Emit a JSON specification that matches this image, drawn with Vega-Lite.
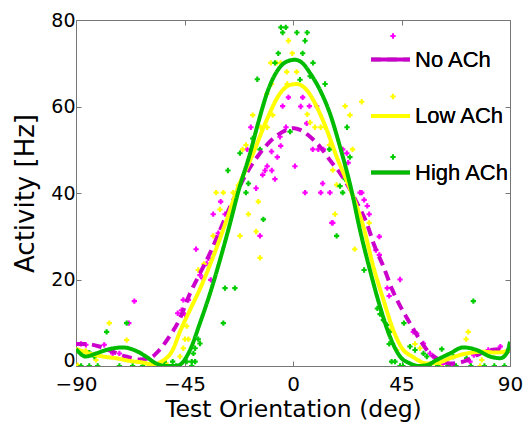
{
  "$schema": "https://vega.github.io/schema/vega-lite/v6.json",
  "width": 434,
  "height": 346,
  "autosize": "none",
  "padding": {"left": 76, "top": 20, "right": 13, "bottom": 61},
  "config": {
    "view": {"stroke": "#777777", "strokeWidth": 1},
    "font": "DejaVu Sans",
    "axis": {
      "grid": false, "domain": false, "tickColor": "#777777", "tickSize": -5, "tickWidth": 1, "labelFlush": false,
      "labelFont": "DejaVu Sans", "labelFontSize": 20, "labelColor": "#000000",
      "titleFont": "DejaVu Sans", "titleFontSize": 23.5, "titleFontWeight": "normal", "titleColor": "#000000"
    },
    "legend": {"padding": 0}
  },
  "datasets": {
    "curves": [
      {"s":"No ACh","x":-90,"y":5.1},{"s":"No ACh","x":-85.9,"y":5.1},{"s":"No ACh","x":-80.3,"y":4.5},{"s":"No ACh","x":-74.8,"y":3.3},{"s":"No ACh","x":-69.3,"y":2.2},{"s":"No ACh","x":-63.7,"y":1.5},{"s":"No ACh","x":-59.6,"y":1.8},{"s":"No ACh","x":-55.4,"y":3.7},{"s":"No ACh","x":-51.3,"y":6.8},{"s":"No ACh","x":-47.2,"y":10.6},{"s":"No ACh","x":-42.7,"y":16.8},{"s":"No ACh","x":-38.6,"y":21.4},{"s":"No ACh","x":-34.4,"y":26.1},{"s":"No ACh","x":-30.3,"y":31.4},{"s":"No ACh","x":-26.1,"y":36.8},{"s":"No ACh","x":-19.2,"y":44.6},{"s":"No ACh","x":-13.7,"y":49.2},{"s":"No ACh","x":-8.2,"y":52.6},{"s":"No ACh","x":-2.6,"y":54.6},{"s":"No ACh","x":0.5,"y":55},{"s":"No ACh","x":3,"y":54.6},{"s":"No ACh","x":7.1,"y":53},{"s":"No ACh","x":11.2,"y":50.7},{"s":"No ACh","x":15.3,"y":47.6},{"s":"No ACh","x":19.5,"y":44.6},{"s":"No ACh","x":23,"y":41.5},{"s":"No ACh","x":27,"y":37.2},{"s":"No ACh","x":30.6,"y":33},{"s":"No ACh","x":33.5,"y":28.2},{"s":"No ACh","x":37.5,"y":23},{"s":"No ACh","x":41.2,"y":17.6},{"s":"No ACh","x":44.8,"y":13.5},{"s":"No ACh","x":48.5,"y":9.9},{"s":"No ACh","x":52.7,"y":6},{"s":"No ACh","x":56.8,"y":2.9},{"s":"No ACh","x":61,"y":1.4},{"s":"No ACh","x":65.1,"y":0.6},{"s":"No ACh","x":70.6,"y":1},{"s":"No ACh","x":76.2,"y":2.5},{"s":"No ACh","x":81.7,"y":3.7},{"s":"No ACh","x":85.9,"y":3.9},{"s":"No ACh","x":88.6,"y":3.3},{"s":"No ACh","x":90,"y":3.7},
      {"s":"Low ACh","x":-90,"y":4},{"s":"Low ACh","x":-84.5,"y":2.9},{"s":"Low ACh","x":-78.9,"y":2.2},{"s":"Low ACh","x":-73.4,"y":1.8},{"s":"Low ACh","x":-67.9,"y":1.2},{"s":"Low ACh","x":-62.3,"y":0.8},{"s":"Low ACh","x":-58.2,"y":0.4},{"s":"Low ACh","x":-54,"y":1.2},{"s":"Low ACh","x":-50,"y":3.6},{"s":"Low ACh","x":-46.9,"y":7.9},{"s":"Low ACh","x":-42.7,"y":13},{"s":"Low ACh","x":-38.6,"y":17.8},{"s":"Low ACh","x":-33.1,"y":25.3},{"s":"Low ACh","x":-27.5,"y":33.8},{"s":"Low ACh","x":-23.5,"y":40.3},{"s":"Low ACh","x":-16.5,"y":49.2},{"s":"Low ACh","x":-10.9,"y":56.9},{"s":"Low ACh","x":-5.4,"y":63},{"s":"Low ACh","x":-1.2,"y":65},{"s":"Low ACh","x":1.5,"y":65.2},{"s":"Low ACh","x":5.7,"y":63.8},{"s":"Low ACh","x":9.8,"y":60},{"s":"Low ACh","x":14,"y":54.6},{"s":"Low ACh","x":18.1,"y":48.4},{"s":"Low ACh","x":24,"y":40.5},{"s":"Low ACh","x":29.2,"y":32.2},{"s":"Low ACh","x":33.3,"y":23},{"s":"Low ACh","x":37.5,"y":15.3},{"s":"Low ACh","x":41.6,"y":8.3},{"s":"Low ACh","x":45,"y":4.3},{"s":"Low ACh","x":50,"y":2},{"s":"Low ACh","x":55.4,"y":0.6},{"s":"Low ACh","x":59.6,"y":0.7},{"s":"Low ACh","x":65.1,"y":1.8},{"s":"Low ACh","x":72,"y":2.9},{"s":"Low ACh","x":78.9,"y":3.3},{"s":"Low ACh","x":84.5,"y":3.1},{"s":"Low ACh","x":90,"y":3.7},
      {"s":"High ACh","x":-90,"y":3.9},{"s":"High ACh","x":-85.9,"y":2.2},{"s":"High ACh","x":-81.7,"y":2.9},{"s":"High ACh","x":-76.2,"y":3.9},{"s":"High ACh","x":-70.6,"y":4.3},{"s":"High ACh","x":-65.1,"y":3.5},{"s":"High ACh","x":-61,"y":2.2},{"s":"High ACh","x":-56.8,"y":0.6},{"s":"High ACh","x":-53,"y":0},{"s":"High ACh","x":-49,"y":0},{"s":"High ACh","x":-46.9,"y":0.3},{"s":"High ACh","x":-42.7,"y":3.7},{"s":"High ACh","x":-38.6,"y":9.9},{"s":"High ACh","x":-34.4,"y":16.8},{"s":"High ACh","x":-30.3,"y":24.5},{"s":"High ACh","x":-26.1,"y":33},{"s":"High ACh","x":-22.7,"y":40.3},{"s":"High ACh","x":-17.8,"y":49.2},{"s":"High ACh","x":-14.4,"y":56.3},{"s":"High ACh","x":-10.2,"y":64},{"s":"High ACh","x":-6.8,"y":68},{"s":"High ACh","x":-2.6,"y":70.4},{"s":"High ACh","x":0.8,"y":70.8},{"s":"High ACh","x":4,"y":70},{"s":"High ACh","x":7.1,"y":67.7},{"s":"High ACh","x":11.2,"y":63.8},{"s":"High ACh","x":15.3,"y":58.4},{"s":"High ACh","x":19.5,"y":50.7},{"s":"High ACh","x":24.3,"y":40.5},{"s":"High ACh","x":27.8,"y":31.4},{"s":"High ACh","x":31.9,"y":22.2},{"s":"High ACh","x":36.1,"y":13.7},{"s":"High ACh","x":40.2,"y":6.8},{"s":"High ACh","x":44.4,"y":2.2},{"s":"High ACh","x":48.5,"y":0.6},{"s":"High ACh","x":52,"y":0},{"s":"High ACh","x":55.5,"y":0.2},{"s":"High ACh","x":59.6,"y":1.4},{"s":"High ACh","x":65.1,"y":2.9},{"s":"High ACh","x":70.6,"y":4.3},{"s":"High ACh","x":76.2,"y":3.7},{"s":"High ACh","x":81.7,"y":2.2},{"s":"High ACh","x":85.9,"y":1.8},{"s":"High ACh","x":88.6,"y":2.9},{"s":"High ACh","x":90,"y":5.6}
    ],
    "pts": [
      {"s":"No ACh","x":-1.9,"y":62.1},{"s":"No ACh","x":4,"y":62.1},{"s":"No ACh","x":-4.3,"y":60.1},{"s":"No ACh","x":3.2,"y":60},{"s":"No ACh","x":6.8,"y":60.1},{"s":"No ACh","x":9.8,"y":60.1},{"s":"No ACh","x":5.7,"y":56.1},{"s":"No ACh","x":8.2,"y":50.1},{"s":"No ACh","x":10.5,"y":50.1},{"s":"No ACh","x":12.6,"y":50.1},{"s":"No ACh","x":20.6,"y":50.1},{"s":"No ACh","x":22.3,"y":49.2},{"s":"No ACh","x":0.8,"y":46.2},{"s":"No ACh","x":22.9,"y":47},{"s":"No ACh","x":20.9,"y":44.2},{"s":"No ACh","x":12.3,"y":42.2},{"s":"No ACh","x":5,"y":40.1},{"s":"No ACh","x":11.5,"y":40.1},{"s":"No ACh","x":15.3,"y":40.1},{"s":"No ACh","x":27.8,"y":40.1},{"s":"No ACh","x":28.5,"y":40.1},{"s":"No ACh","x":29.5,"y":38.4},{"s":"No ACh","x":30.8,"y":37},{"s":"No ACh","x":31.6,"y":35.1},{"s":"No ACh","x":16.5,"y":33.1},{"s":"No ACh","x":35.8,"y":29.9},{"s":"No ACh","x":34.4,"y":26.8},{"s":"No ACh","x":35.8,"y":25.7},{"s":"No ACh","x":44.4,"y":20},{"s":"No ACh","x":39.1,"y":18},{"s":"No ACh","x":39.9,"y":16.2},{"s":"No ACh","x":49.9,"y":7.9},{"s":"No ACh","x":51.3,"y":7.5},{"s":"No ACh","x":54.1,"y":5.2},{"s":"No ACh","x":56.8,"y":2.9},{"s":"No ACh","x":58.2,"y":2.2},{"s":"No ACh","x":73.4,"y":1},
      {"s":"No ACh","x":-17.5,"y":55.2},{"s":"No ACh","x":-2.9,"y":55.2},{"s":"No ACh","x":-5.4,"y":53},{"s":"No ACh","x":-8.9,"y":49.6},{"s":"No ACh","x":-19,"y":50.1},{"s":"No ACh","x":-6.5,"y":48.3},{"s":"No ACh","x":-10.7,"y":46.2},{"s":"No ACh","x":-11.6,"y":45.2},{"s":"No ACh","x":-8.8,"y":45.2},{"s":"No ACh","x":-12.6,"y":44.2},{"s":"No ACh","x":-7.5,"y":43.2},{"s":"No ACh","x":-15.3,"y":41.1},{"s":"No ACh","x":-5.1,"y":50.9},
      {"s":"No ACh","x":-30,"y":38},{"s":"No ACh","x":-33.1,"y":35.1},{"s":"No ACh","x":-28.2,"y":35.1},{"s":"No ACh","x":-31,"y":30.7},{"s":"No ACh","x":-13.7,"y":30.1},{"s":"No ACh","x":-40.2,"y":27},{"s":"No ACh","x":-35.1,"y":24.9},{"s":"No ACh","x":-35.8,"y":23.7},{"s":"No ACh","x":-38.6,"y":21},{"s":"No ACh","x":-37.5,"y":20.3},{"s":"No ACh","x":-34.1,"y":19.9},{"s":"No ACh","x":-45.5,"y":15.3},{"s":"No ACh","x":-43.4,"y":15.3},{"s":"No ACh","x":-46.2,"y":12.9},{"s":"No ACh","x":-44.8,"y":11.8},{"s":"No ACh","x":-47.8,"y":12.2},{"s":"No ACh","x":16.1,"y":33.1},
      {"s":"No ACh","x":-65.8,"y":15},{"s":"No ACh","x":-68.1,"y":9.9},{"s":"No ACh","x":-87.9,"y":5.1},{"s":"No ACh","x":-85.9,"y":4.9},{"s":"No ACh","x":-78.3,"y":4.9},{"s":"No ACh","x":-74.8,"y":2.9},{"s":"No ACh","x":-72,"y":2.9},{"s":"No ACh","x":75,"y":2.5},{"s":"No ACh","x":81,"y":3.7},{"s":"No ACh","x":86,"y":4.5},{"s":"No ACh","x":89,"y":3.5},{"s":"No ACh","x":62,"y":0.5},{"s":"No ACh","x":66,"y":0},
      {"s":"Low ACh","x":-1.9,"y":75.2},{"s":"Low ACh","x":-0.3,"y":72.3},{"s":"Low ACh","x":-9.2,"y":70.1},{"s":"Low ACh","x":-6.8,"y":70.1},{"s":"Low ACh","x":-5.1,"y":70.1},{"s":"Low ACh","x":1.5,"y":68},{"s":"Low ACh","x":-2.6,"y":68},{"s":"Low ACh","x":-8.9,"y":65.2},{"s":"Low ACh","x":-2.4,"y":65.2},{"s":"Low ACh","x":-10.9,"y":62.9},{"s":"Low ACh","x":28.5,"y":61.1},{"s":"Low ACh","x":21.6,"y":60.1},{"s":"Low ACh","x":23.6,"y":58},{"s":"Low ACh","x":-8.4,"y":58},{"s":"Low ACh","x":5.9,"y":58.2},{"s":"Low ACh","x":-16.7,"y":58},{"s":"Low ACh","x":7.1,"y":56.3},{"s":"Low ACh","x":9.1,"y":55.2},{"s":"Low ACh","x":11.5,"y":55.2},{"s":"Low ACh","x":13.3,"y":55.2},{"s":"Low ACh","x":-10.7,"y":55.2},{"s":"Low ACh","x":-13.4,"y":55.2},{"s":"Low ACh","x":15.1,"y":51.1},{"s":"Low ACh","x":24.7,"y":50.1},{"s":"Low ACh","x":-19.5,"y":51.1},{"s":"Low ACh","x":-20.9,"y":50.1},{"s":"Low ACh","x":16.5,"y":45.3},{"s":"Low ACh","x":18.1,"y":41.9},{"s":"Low ACh","x":-22.7,"y":41.8},{"s":"Low ACh","x":-31.9,"y":40.1},{"s":"Low ACh","x":-28.9,"y":40.1},{"s":"Low ACh","x":-24.8,"y":40.1},{"s":"Low ACh","x":-14.4,"y":38},{"s":"Low ACh","x":-18.5,"y":35.1},{"s":"Low ACh","x":-30.3,"y":36.2},{"s":"Low ACh","x":-26.4,"y":36.2},{"s":"Low ACh","x":-33.1,"y":30.1},{"s":"Low ACh","x":-22,"y":30.1},{"s":"Low ACh","x":-15.3,"y":31.1},{"s":"Low ACh","x":-13.7,"y":25},{"s":"Low ACh","x":-39.3,"y":22.2},{"s":"Low ACh","x":-36.9,"y":23.6},{"s":"Low ACh","x":17.4,"y":35.1},{"s":"Low ACh","x":31.6,"y":33.1},{"s":"Low ACh","x":25.6,"y":27},{"s":"Low ACh","x":40.2,"y":8.3},{"s":"Low ACh","x":43,"y":3.7},{"s":"Low ACh","x":50.6,"y":5.1},{"s":"Low ACh","x":52.7,"y":4.1},{"s":"Low ACh","x":72.7,"y":7.9},{"s":"Low ACh","x":71.8,"y":6.2},{"s":"Low ACh","x":78.3,"y":1.4},{"s":"Low ACh","x":50,"y":0},{"s":"Low ACh","x":61,"y":0},{"s":"Low ACh","x":77.6,"y":0},
      {"s":"Low ACh","x":-44.1,"y":9.2},{"s":"Low ACh","x":-44.8,"y":6.2},{"s":"Low ACh","x":-43.4,"y":6.2},{"s":"Low ACh","x":-45.5,"y":4.1},{"s":"Low ACh","x":-46.9,"y":2.2},
      {"s":"Low ACh","x":-76.2,"y":9.9},{"s":"Low ACh","x":-69,"y":6},{"s":"Low ACh","x":-89.3,"y":0.2},{"s":"Low ACh","x":-81.7,"y":1.4},{"s":"Low ACh","x":-59.6,"y":0.2},{"s":"Low ACh","x":-52.7,"y":0.6},{"s":"Low ACh","x":-86,"y":3.5},
      {"s":"High ACh","x":-5,"y":78.3},{"s":"High ACh","x":-3,"y":78.3},{"s":"High ACh","x":-4.3,"y":77.1},{"s":"High ACh","x":1.6,"y":77.1},{"s":"High ACh","x":5.9,"y":77.1},{"s":"High ACh","x":5,"y":75.2},{"s":"High ACh","x":-6.1,"y":72.3},{"s":"High ACh","x":4,"y":72.3},{"s":"High ACh","x":8.3,"y":70.1},{"s":"High ACh","x":-7.5,"y":70.1},{"s":"High ACh","x":2.9,"y":66.2},{"s":"High ACh","x":7.1,"y":67},{"s":"High ACh","x":13.3,"y":65.2},{"s":"High ACh","x":-14.8,"y":66.3},{"s":"High ACh","x":22.4,"y":55.2},{"s":"High ACh","x":-1.2,"y":54.2},{"s":"High ACh","x":15.1,"y":50.1},{"s":"High ACh","x":23.6,"y":48.3},{"s":"High ACh","x":21.6,"y":43.2},{"s":"High ACh","x":19.5,"y":41.6},{"s":"High ACh","x":20.6,"y":40.1},{"s":"High ACh","x":18.1,"y":30.1},{"s":"High ACh","x":29.5,"y":22.2},{"s":"High ACh","x":35,"y":13.3},{"s":"High ACh","x":36.1,"y":12},{"s":"High ACh","x":37.5,"y":10.6},{"s":"High ACh","x":38.9,"y":9.5},{"s":"High ACh","x":40,"y":7.9},{"s":"High ACh","x":39.9,"y":5.1},{"s":"High ACh","x":40.9,"y":1},{"s":"High ACh","x":42.3,"y":1},{"s":"High ACh","x":44.4,"y":0},{"s":"High ACh","x":46,"y":9.9},{"s":"High ACh","x":48.5,"y":4.5},{"s":"High ACh","x":50.6,"y":3.7},{"s":"High ACh","x":54.1,"y":2.9},{"s":"High ACh","x":55.5,"y":2.2},{"s":"High ACh","x":61.7,"y":3.9},{"s":"High ACh","x":74.8,"y":15},{"s":"High ACh","x":66.5,"y":2.2},{"s":"High ACh","x":72,"y":1.8},{"s":"High ACh","x":45.6,"y":0},{"s":"High ACh","x":56.6,"y":0},{"s":"High ACh","x":60,"y":0},{"s":"High ACh","x":64.2,"y":0},{"s":"High ACh","x":67.6,"y":0},{"s":"High ACh","x":73.8,"y":0},{"s":"High ACh","x":79.4,"y":0},{"s":"High ACh","x":83.5,"y":0},{"s":"High ACh","x":87.7,"y":0},
      {"s":"High ACh","x":-69,"y":9.9},{"s":"High ACh","x":-77.3,"y":7.9},{"s":"High ACh","x":-84.5,"y":3.1},{"s":"High ACh","x":-82.4,"y":2.2},{"s":"High ACh","x":-87.9,"y":0},{"s":"High ACh","x":-84.5,"y":0},{"s":"High ACh","x":-81,"y":0},{"s":"High ACh","x":-72,"y":0},{"s":"High ACh","x":-66.5,"y":0},{"s":"High ACh","x":-62.4,"y":0},{"s":"High ACh","x":-54.8,"y":0},{"s":"High ACh","x":-53.4,"y":1},{"s":"High ACh","x":-49.9,"y":1},{"s":"High ACh","x":-48.5,"y":0},
      {"s":"High ACh","x":-12.3,"y":33.9},{"s":"High ACh","x":-28.2,"y":18},{"s":"High ACh","x":-24.1,"y":18},{"s":"High ACh","x":-28.9,"y":9.9},{"s":"High ACh","x":-39.3,"y":6.2},{"s":"High ACh","x":-38.6,"y":5.2},{"s":"High ACh","x":-41.3,"y":2.9},{"s":"High ACh","x":-40.6,"y":4.1},{"s":"High ACh","x":-44.1,"y":1},{"s":"High ACh","x":-42,"y":1},{"s":"High ACh","x":-40.6,"y":1},{"s":"High ACh","x":-42,"y":0},{"s":"High ACh","x":-16.7,"y":52.6},{"s":"High ACh","x":-13.7,"y":50.1},{"s":"High ACh","x":-22,"y":49.2},{"s":"High ACh","x":-27,"y":45.2},{"s":"High ACh","x":-18.5,"y":42.2},{"s":"High ACh","x":-19.5,"y":40.1}
    ]
  },
  "layer": [
    {
      "data": {"name": "pts"},
      "mark": {"type": "point", "shape": "cross", "filled": true, "size": 28, "opacity": 1, "clip": true},
      "encoding": {
        "x": {"field": "x", "type": "quantitative", "scale": {"domain": [-90, 90], "nice": false, "zero": false},
              "axis": {"orient": "top", "values": [-90, -45, 0, 45, 90], "labels": false, "title": null}},
        "y": {"field": "y", "type": "quantitative", "scale": {"domain": [0, 80], "nice": false},
              "axis": {"orient": "right", "values": [0, 20, 40, 60, 80], "labels": false, "title": null}},
        "color": {"field": "s", "type": "nominal",
                  "scale": {"domain": ["No ACh", "Low ACh", "High ACh"], "range": ["#ff00ff", "#ffff00", "#00cc00"]},
                  "legend": {"orient": "none", "legendX": 311, "legendY": 10, "title": null, "labelExpr": "''",
                             "symbolType": "cross", "symbolSize": 28, "symbolStrokeWidth": 0, "labelFontSize": 12, "rowPadding": 48.5}}
      }
    },
    {
      "layer": [
        {
          "data": {"name": "curves"},
          "transform": [{"filter": "datum.s == 'No ACh'"}],
          "mark": {"type": "line", "strokeWidth": 4, "interpolate": "monotone", "clip": true},
          "encoding": {
            "x": {"field": "x", "type": "quantitative", "scale": {"domain": [-90, 90], "nice": false, "zero": false},
                  "axis": {"orient": "bottom", "values": [-90, -45, 0, 45, 90], "title": "Test Orientation (deg)", "labelPadding": 13, "titlePadding": 3}},
            "y": {"field": "y", "type": "quantitative", "scale": {"domain": [0, 80], "nice": false},
                  "axis": {"orient": "left", "values": [0, 20, 40, 60, 80], "title": "Activity [Hz]", "labelFontSize": 19, "titleFontSize": 26, "labelPadding": 6, "titlePadding": 12,
                           "labelBaseline": {"condition": {"test": "datum.value == 0", "value": "alphabetic"}, "value": "middle"}}},
            "color": {"field": "s", "type": "nominal",
                      "scale": {"domain": ["No ACh", "Low ACh", "High ACh"], "range": ["#cc00cc", "#ffff00", "#00bb00"]},
                      "legend": {"orient": "none", "legendX": 293, "legendY": 18, "title": null,
                                 "symbolType": "stroke", "symbolSize": 1521, "symbolStrokeWidth": 4,
                                 "labelFont": "Liberation Sans", "labelFontSize": 22, "labelColor": "#000000", "labelOffset": 3, "rowPadding": 23.5}},
            "strokeDash": {"field": "s", "type": "nominal",
                           "scale": {"domain": ["No ACh", "Low ACh", "High ACh"], "range": [[10, 6], [1, 0], [1, 0]]},
                           "legend": {"orient": "none", "legendX": 293, "legendY": 18, "title": null,
                                 "symbolType": "stroke", "symbolSize": 1521, "symbolStrokeWidth": 4,
                                 "labelFont": "Liberation Sans", "labelFontSize": 22, "labelColor": "#000000", "labelOffset": 3, "rowPadding": 23.5}}
          }
        },
        {
          "data": {"name": "curves"},
          "transform": [{"filter": "datum.s == 'Low ACh'"}],
          "mark": {"type": "line", "strokeWidth": 4, "interpolate": "monotone", "clip": true},
          "encoding": {
            "x": {"field": "x", "type": "quantitative"},
            "y": {"field": "y", "type": "quantitative"},
            "color": {"field": "s", "type": "nominal"},
            "strokeDash": {"field": "s", "type": "nominal"}
          }
        },
        {
          "data": {"name": "curves"},
          "transform": [{"filter": "datum.s == 'High ACh'"}],
          "mark": {"type": "line", "strokeWidth": 4, "interpolate": "monotone", "clip": true},
          "encoding": {
            "x": {"field": "x", "type": "quantitative"},
            "y": {"field": "y", "type": "quantitative"},
            "color": {"field": "s", "type": "nominal"},
            "strokeDash": {"field": "s", "type": "nominal"}
          }
        }
      ]
    }
  ],
  "resolve": {"scale": {"color": "independent"}, "axis": {"x": "independent", "y": "independent"}}
}
